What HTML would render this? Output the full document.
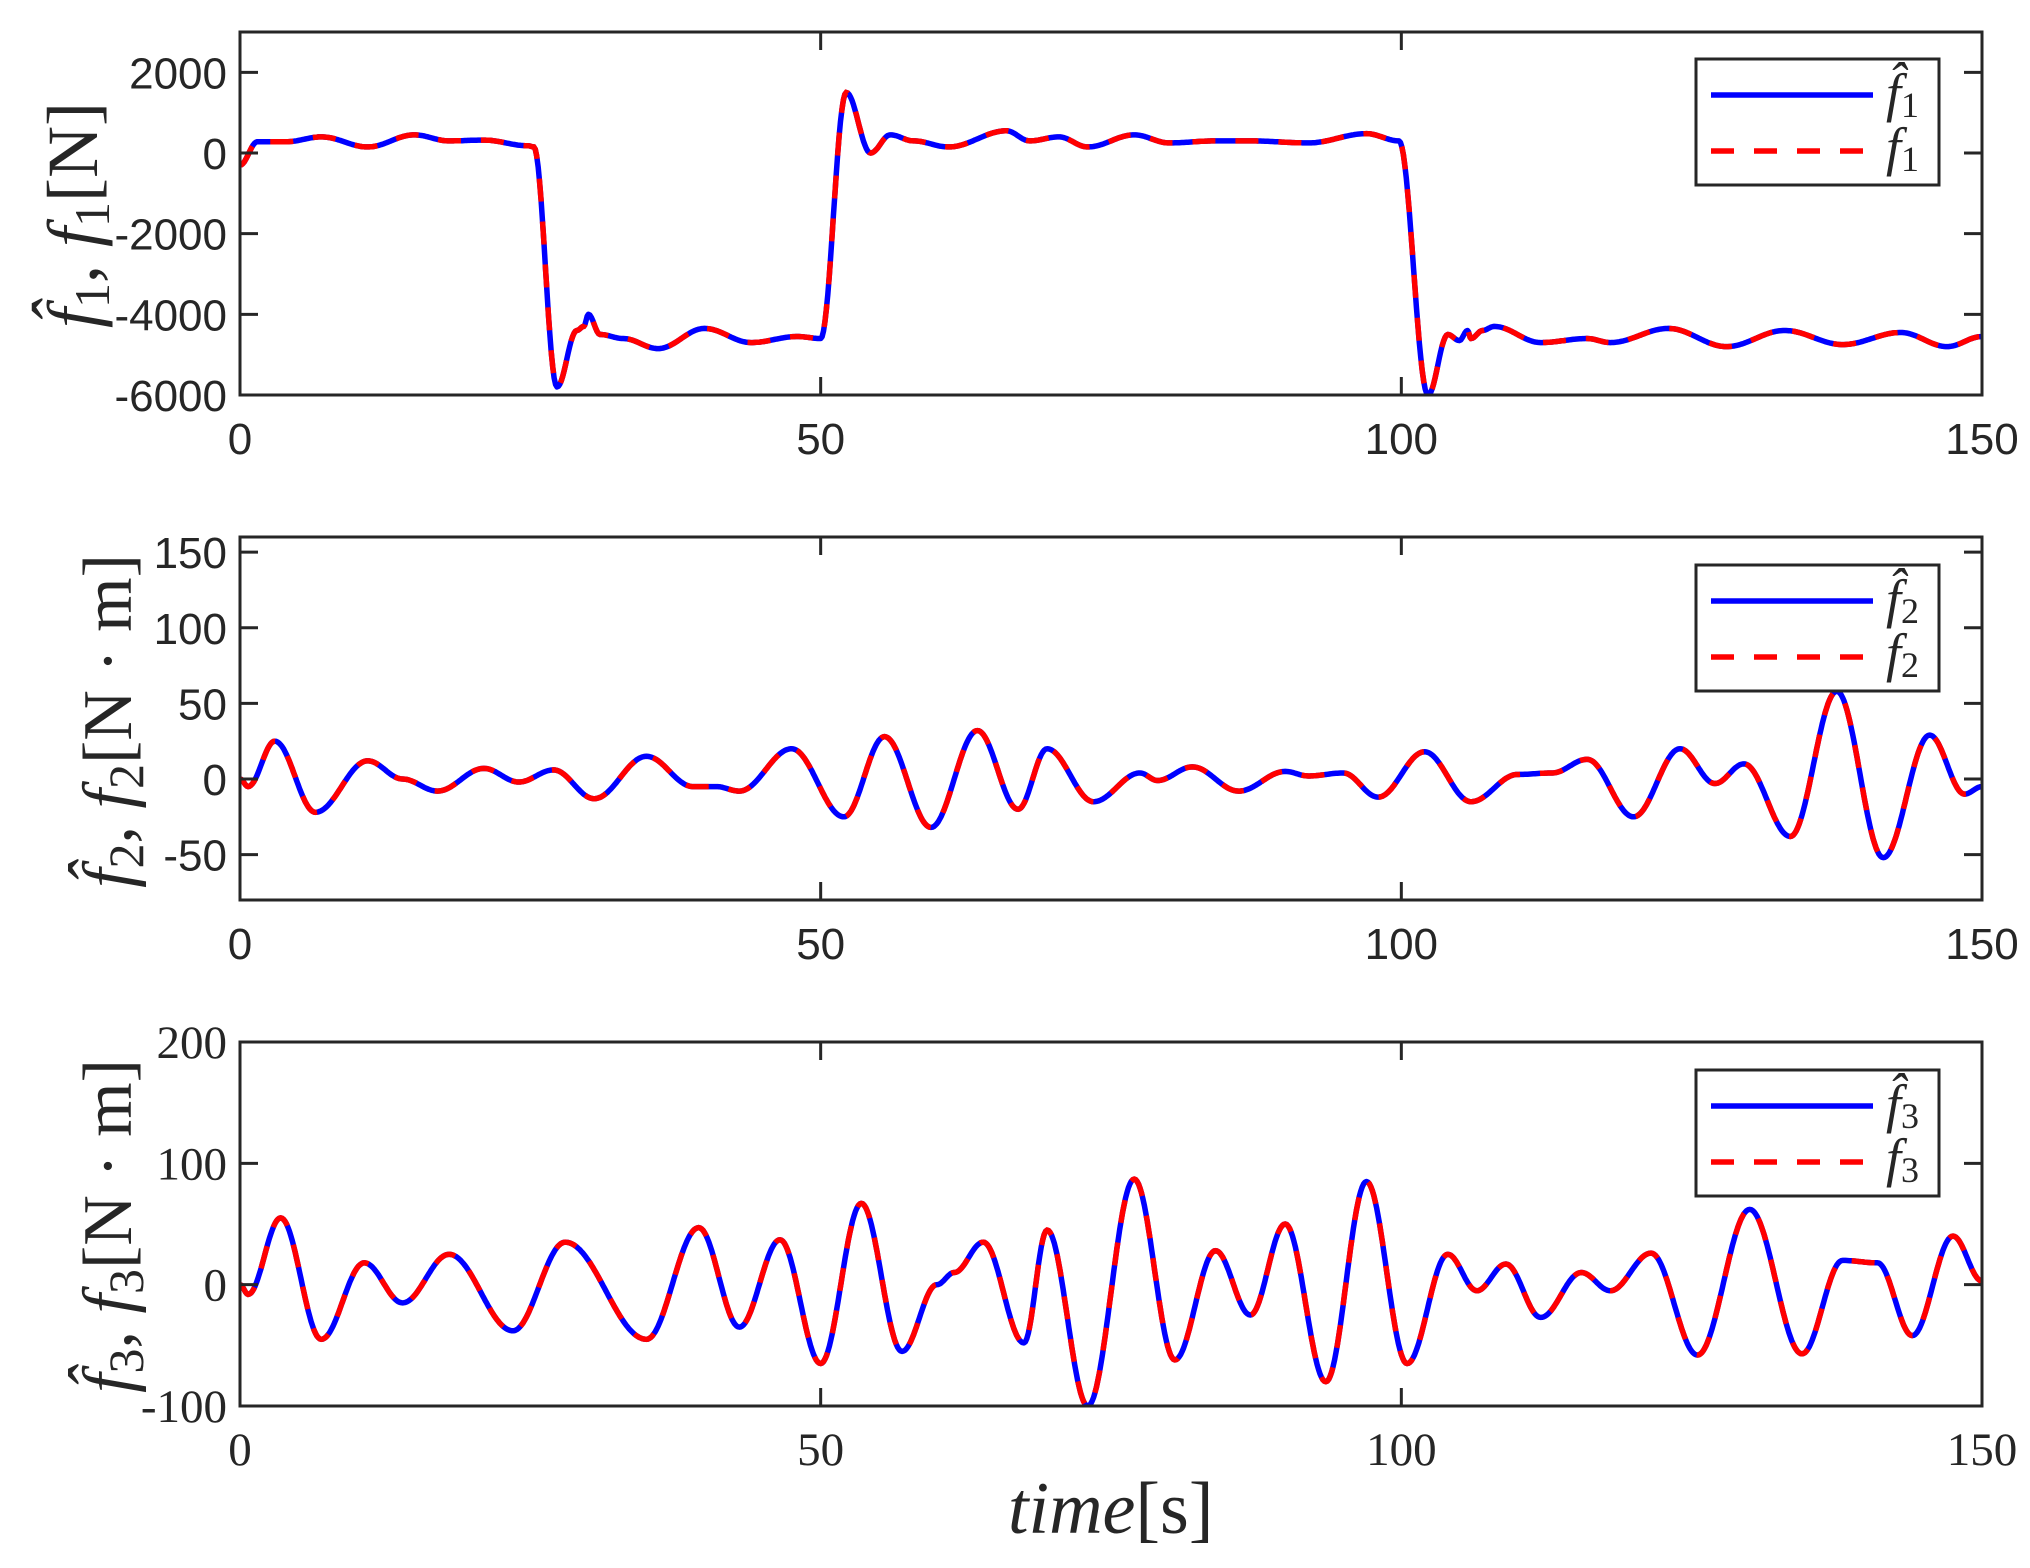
<!DOCTYPE html>
<html><head><meta charset="utf-8"><style>
html,body{margin:0;padding:0;background:#fff;}
svg{display:block;}
.t{font-family:"Liberation Sans",sans-serif;font-size:44px;fill:#262626;}
.ts{font-family:"Liberation Serif",serif;font-size:47px;fill:#262626;}
.lab{font-family:"Liberation Serif",serif;fill:#262626;}
</style></head><body>
<svg id="s" width="2030" height="1568" viewBox="0 0 2030 1568" xmlns="http://www.w3.org/2000/svg">
<rect width="2030" height="1568" fill="#fff"/>
<g id="g"></g>
<text class="lab" x="1008" y="1533" style="font-size:74px;font-style:italic">time<tspan style="font-style:normal">[s]</tspan></text>
<text class="lab" style="font-size:72px" transform="translate(97,215) rotate(-90)" text-anchor="middle"><tspan style="font-style:italic">f̂</tspan><tspan style="font-size:50px" dy="12">1</tspan><tspan dy="-12">, </tspan><tspan style="font-style:italic">f</tspan><tspan style="font-size:50px" dy="12">1</tspan><tspan dy="-12">[N]</tspan></text>
<text class="lab" style="font-size:70px" transform="translate(131,721) rotate(-90)" text-anchor="middle"><tspan style="font-style:italic">f̂</tspan><tspan style="font-size:50px" dy="12">2</tspan><tspan dy="-12">, </tspan><tspan style="font-style:italic">f</tspan><tspan style="font-size:50px" dy="12">2</tspan><tspan dy="-12">[N · m]</tspan></text>
<text class="lab" style="font-size:70px" transform="translate(131,1226) rotate(-90)" text-anchor="middle"><tspan style="font-style:italic">f̂</tspan><tspan style="font-size:50px" dy="12">3</tspan><tspan dy="-12">, </tspan><tspan style="font-style:italic">f</tspan><tspan style="font-size:50px" dy="12">3</tspan><tspan dy="-12">[N · m]</tspan></text>
</svg>
<script>
const L=240,R=1982;
const panels=[
 {top:32,bot:395,ymin:-6000,ymax:3000,ticks:[-6000,-4000,-2000,0,2000],cls:"t",n:"1",ly:59,
  d:[[0,-300],[1.5,280],[4,280],[7,400],[11,150],[15,450],[18,300],[21,320],[24.8,180],[25.3,150],[27.3,-5800],[29,-4400],[29.6,-4300],[30,-4000],[31,-4500],[33,-4600],[36,-4850],[40,-4350],[44,-4700],[48,-4550],[50,-4600],[52.2,1500],[54.3,0],[56,450],[58,300],[61,150],[66,550],[68,300],[70.5,400],[73,150],[77,450],[80,250],[84,300],[87,300],[92,250],[97,480],[99.8,300],[102.3,-6000],[104,-4500],[105,-4650],[105.7,-4400],[106,-4600],[107,-4400],[108,-4300],[112,-4700],[116,-4600],[118,-4700],[123,-4350],[128,-4800],[133,-4400],[138,-4750],[143,-4450],[147,-4800],[150,-4550]]},
 {top:537,bot:900,ymin:-80,ymax:160,ticks:[-50,0,50,100,150],cls:"t",n:"2",ly:565,
  d:[[0,0],[0.7,-5],[3,25],[6.5,-22],[11,12],[14,0],[17,-8],[21,7],[24,-2],[27,6],[30.5,-13],[35,15],[39,-5],[41,-5],[43,-8],[47.5,20],[52,-25],[55.5,28],[59.5,-32],[63.5,32],[67,-20],[69.5,20],[73.5,-15],[77.5,4],[79,-1],[82,8],[86,-8],[90,5],[92,2],[95,4],[98,-12],[102,18],[106,-15],[110,3],[113,4],[116,13],[120,-25],[124,20],[127,-3],[129.5,10],[133.5,-38],[137.5,58],[141.5,-52],[145.5,29],[148.5,-10],[150,-5]]},
 {top:1042,bot:1406,ymin:-100,ymax:200,ticks:[-100,0,100,200],cls:"ts",n:"3",ly:1070,
  d:[[0,0],[0.7,-8],[3.5,55],[7,-45],[10.7,18],[14,-15],[18,25],[23.5,-38],[28,35],[35,-45],[39.5,47],[43,-35],[46.5,37],[50,-65],[53.5,67],[57,-55],[60,0],[61.5,10],[64,35],[67.5,-48],[69.5,45],[73,-100],[77,87],[80.5,-62],[84,28],[87,-25],[90,50],[93.5,-80],[97,85],[100.5,-65],[104,25],[106.5,-5],[109,17],[112,-27],[115.5,10],[118,-5],[121.5,26],[125.5,-58],[130,62],[134.5,-57],[138,20],[141,18],[144,-42],[147.5,40],[150,3]]}
];
let h="";
const X=t=>L+(R-L)*t/150;
for(const p of panels){
 const Y=v=>p.bot-(p.bot-p.top)*(v-p.ymin)/(p.ymax-p.ymin);
 let pts=[];
 for(let i=0;i<p.d.length-1;i++){const[a,va]=p.d[i],[b,vb]=p.d[i+1];
  const n=Math.max(4,Math.ceil((b-a)*8));
  for(let k=0;k<n;k++){const s=k/n,m=(1-Math.cos(Math.PI*s))/2;pts.push(X(a+(b-a)*s).toFixed(1)+","+Y(va+(vb-va)*m).toFixed(1));}}
 const last=p.d[p.d.length-1];pts.push(X(last[0]).toFixed(1)+","+Y(last[1]).toFixed(1));
 const pd="M"+pts.join("L");
 h+=`<clipPath id="c${p.n}"><rect x="${L}" y="${p.top}" width="${R-L}" height="${p.bot-p.top}"/></clipPath>`;
 h+=`<g clip-path="url(#c${p.n})"><path d="${pd}" fill="none" stroke="#0000ff" stroke-width="5.5" stroke-linejoin="round"/><path d="${pd}" fill="none" stroke="#ff0000" stroke-width="5.5" stroke-dasharray="23,20"/></g>`;
 h+=`<rect x="${L}" y="${p.top}" width="${R-L}" height="${p.bot-p.top}" fill="none" stroke="#262626" stroke-width="3"/>`;
 for(const t of [0,50,100,150]){const x=X(t);
  h+=`<line x1="${x}" y1="${p.bot}" x2="${x}" y2="${p.bot-18}" stroke="#262626" stroke-width="3"/><line x1="${x}" y1="${p.top}" x2="${x}" y2="${p.top+18}" stroke="#262626" stroke-width="3"/>`;
  h+=`<text class="${p.cls}" x="${x}" y="${p.bot+59}" text-anchor="middle">${t}</text>`;}
 for(const v of p.ticks){const y=Y(v);
  h+=`<line x1="${L}" y1="${y}" x2="${L+18}" y2="${y}" stroke="#262626" stroke-width="3"/><line x1="${R}" y1="${y}" x2="${R-18}" y2="${y}" stroke="#262626" stroke-width="3"/>`;
  h+=`<text class="${p.cls}" x="227" y="${y+16}" text-anchor="end">${v}</text>`;}
 const ly=p.ly;
 h+=`<rect x="1696" y="${ly}" width="243" height="126" fill="#fff" stroke="#262626" stroke-width="3"/>`;
 h+=`<line x1="1711" y1="${ly+36}" x2="1873" y2="${ly+36}" stroke="#0000ff" stroke-width="5.5"/>`;
 h+=`<line x1="1711" y1="${ly+92}" x2="1873" y2="${ly+92}" stroke="#ff0000" stroke-width="5.5" stroke-dasharray="23,20"/>`;
 h+=`<text class="lab" style="font-size:54px" x="1886" y="${ly+52}"><tspan style="font-style:italic">f̂</tspan><tspan style="font-size:36px" dy="6">${p.n}</tspan></text>`;
 h+=`<text class="lab" style="font-size:54px" x="1886" y="${ly+106}"><tspan style="font-style:italic">f</tspan><tspan style="font-size:36px" dy="6">${p.n}</tspan></text>`;
}
document.getElementById("g").innerHTML=h;
</script>
</body></html>
